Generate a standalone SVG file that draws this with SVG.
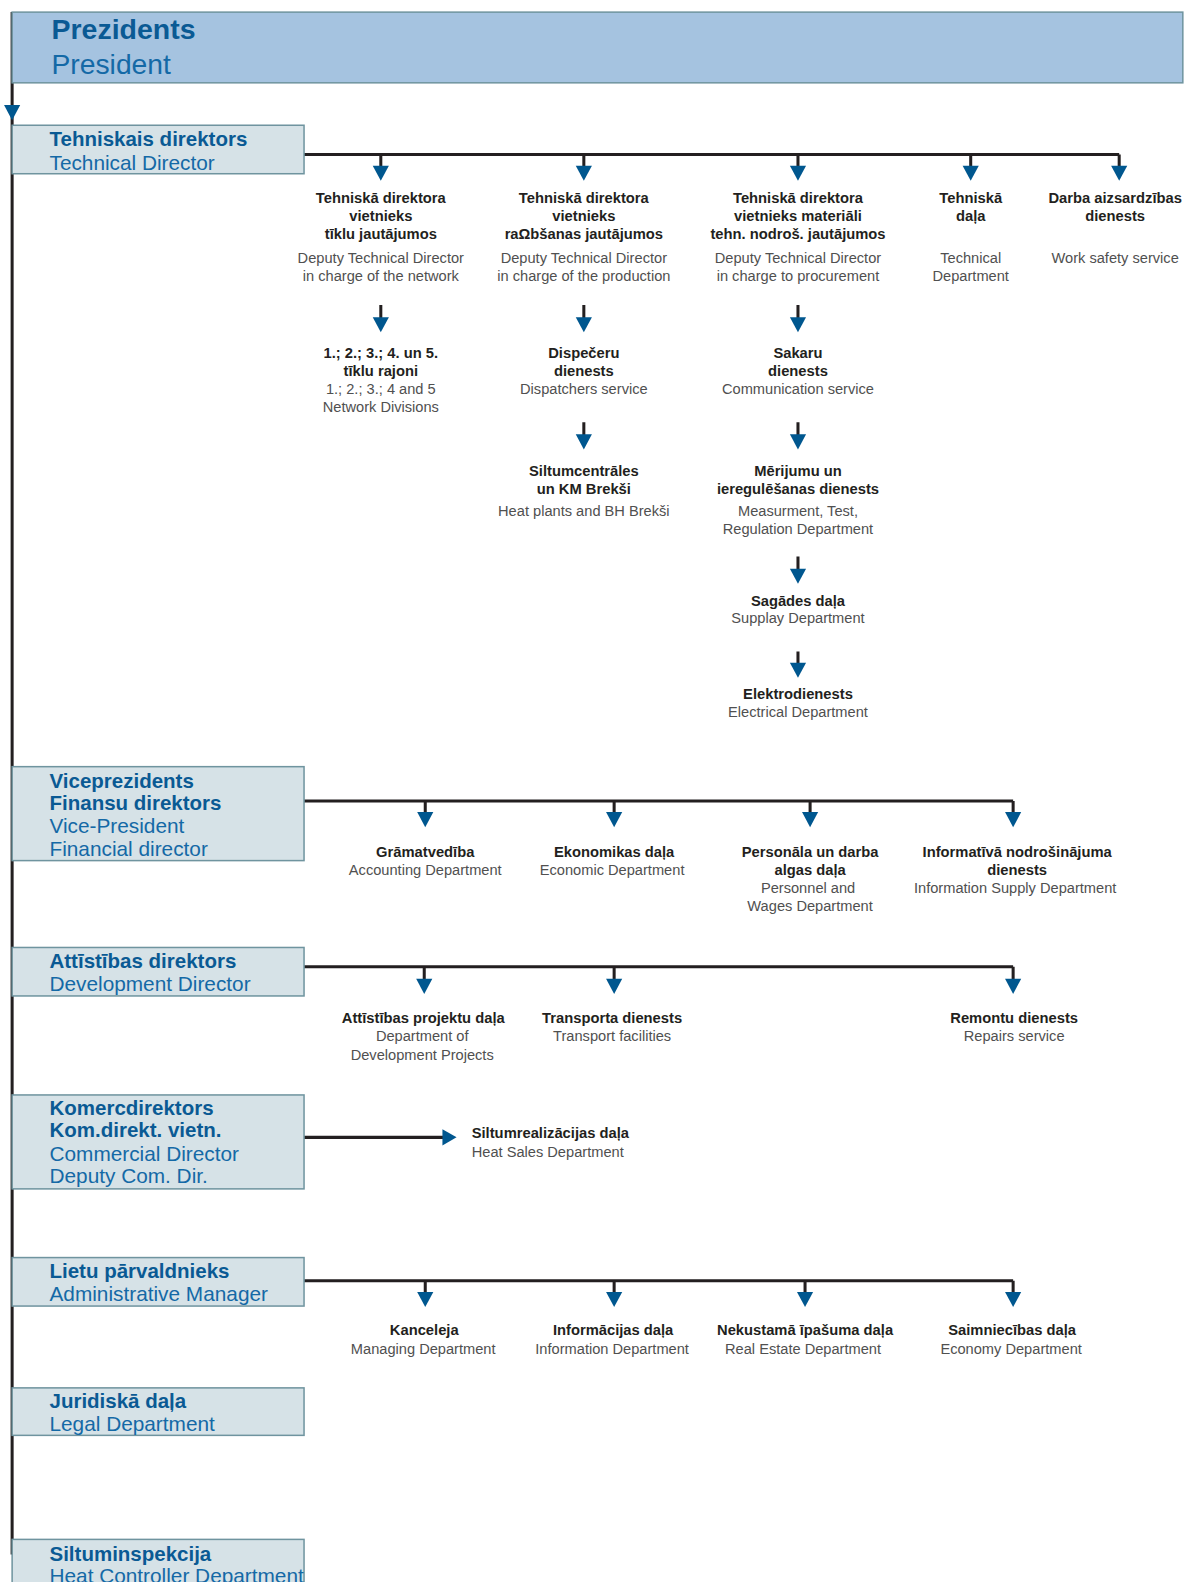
<svg xmlns="http://www.w3.org/2000/svg" width="1184" height="1582" viewBox="0 0 1184 1582">
<style>
.ln{stroke:#231f20;stroke-width:3;fill:none}
.ar{fill:#00578f}
.box{fill:#d6e2e7;stroke:#6f949f;stroke-width:1.5}
.pbox{fill:#a5c3e0;stroke:#6f949f;stroke-width:1.5}
.tb{font-family:"Liberation Sans",Arial,sans-serif;font-size:20.3px;font-weight:bold;fill:#0a5a94}
.tr{font-family:"Liberation Sans",Arial,sans-serif;font-size:20.6px;fill:#1469a6}
.nb{font-family:"Liberation Sans",Arial,sans-serif;font-size:14.6px;font-weight:bold;fill:#231f20;text-anchor:middle}
.nr{font-family:"Liberation Sans",Arial,sans-serif;font-size:14.5px;fill:#505050;text-anchor:middle}
.l{text-anchor:start}
</style>
<defs>
<path id="ad" class="ar" d="M-8,-15 L8,-15 L0,0 Z"/>
<path id="arr" class="ar" d="M-14,-8 L-14,8 L0,0 Z"/>
</defs>
<g transform="scale(1.0101)">
<g id="connectors">
<line class="ln" x1="12" y1="12" x2="12" y2="1539"/>
<use href="#ad" x="12" y="119"/>
<line class="ln" x1="12" y1="154" x2="28" y2="154"/><use href="#arr" x="40" y="154"/>
<line class="ln" x1="12" y1="801" x2="28" y2="801"/><use href="#arr" x="40" y="801"/>
<line class="ln" x1="12" y1="956" x2="28" y2="956"/><use href="#arr" x="40" y="956"/>
<line class="ln" x1="12" y1="1126" x2="28" y2="1126"/><use href="#arr" x="40" y="1126"/>
<line class="ln" x1="12" y1="1267" x2="28" y2="1267"/><use href="#arr" x="40" y="1267"/>
<line class="ln" x1="12" y1="1396" x2="28" y2="1396"/><use href="#arr" x="40" y="1396"/>
<line class="ln" x1="12" y1="1538" x2="28" y2="1538"/><use href="#arr" x="40" y="1538"/>

<path class="ln" d="M301,153 H1108 M377,153 V166 M578,153 V166 M790,153 V166 M961,153 V166 M1108,153 V166"/>
<use href="#ad" x="377" y="179"/><use href="#ad" x="578" y="179"/><use href="#ad" x="790" y="179"/><use href="#ad" x="961" y="179"/><use href="#ad" x="1108" y="179"/>
<path class="ln" d="M377,302 V316 M578,302 V316 M790,302 V316 M578,418 V432 M790,418 V432 M790,551 V565 M790,645 V658"/>
<use href="#ad" x="377" y="329"/><use href="#ad" x="578" y="329"/><use href="#ad" x="790" y="329"/>
<use href="#ad" x="578" y="445"/><use href="#ad" x="790" y="445"/>
<use href="#ad" x="790" y="578"/><use href="#ad" x="790" y="671"/>

<path class="ln" d="M301,793 H1003 M421,793 V806 M608,793 V806 M802,793 V806 M1003,793 V806"/>
<use href="#ad" x="421" y="819"/><use href="#ad" x="608" y="819"/><use href="#ad" x="802" y="819"/><use href="#ad" x="1003" y="819"/>

<path class="ln" d="M301,957 H1003 M420,957 V971 M608,957 V971 M1003,957 V971"/>
<use href="#ad" x="420" y="984"/><use href="#ad" x="608" y="984"/><use href="#ad" x="1003" y="984"/>

<line class="ln" x1="301" y1="1126" x2="440" y2="1126"/><use href="#arr" x="452" y="1126"/>

<path class="ln" d="M301,1268 H1003 M421,1268 V1281 M608,1268 V1281 M797,1268 V1281 M1003,1268 V1281"/>
<use href="#ad" x="421" y="1294"/><use href="#ad" x="608" y="1294"/><use href="#ad" x="797" y="1294"/><use href="#ad" x="1003" y="1294"/>
</g>

<g id="president">
<rect class="pbox" x="12" y="12" width="1159" height="70"/>
<text class="tb" x="51" y="39" style="font-size:28.2px">Prezidents</text>
<text class="tr" x="51" y="73" style="font-size:28px">President</text>
</g>

<g id="technical-director">
<rect class="box" x="12" y="124" width="289" height="48"/>
<text class="tb" x="49" y="145">Tehniskais direktors</text>
<text class="tr" x="49" y="168">Technical Director</text>
</g>

<g id="deputy-network">
<text class="nb" x="377" y="201">Tehniskā direktora</text>
<text class="nb" x="377" y="219">vietnieks</text>
<text class="nb" x="377" y="237">tīklu jautājumos</text>
<text class="nr" x="377" y="260">Deputy Technical Director</text>
<text class="nr" x="377" y="278">in charge of the network</text>
</g>
<g id="deputy-production">
<text class="nb" x="578" y="201">Tehniskā direktora</text>
<text class="nb" x="578" y="219">vietnieks</text>
<text class="nb" x="578" y="237">raΩbšanas jautājumos</text>
<text class="nr" x="578" y="260">Deputy Technical Director</text>
<text class="nr" x="578" y="278">in charge of the production</text>
</g>
<g id="deputy-procurement">
<text class="nb" x="790" y="201">Tehniskā direktora</text>
<text class="nb" x="790" y="219">vietnieks materiāli</text>
<text class="nb" x="790" y="237">tehn. nodroš. jautājumos</text>
<text class="nr" x="790" y="260">Deputy Technical Director</text>
<text class="nr" x="790" y="278">in charge to procurement</text>
</g>
<g id="technical-department">
<text class="nb" x="961" y="201">Tehniskā</text>
<text class="nb" x="961" y="219">daļa</text>
<text class="nr" x="961" y="260">Technical</text>
<text class="nr" x="961" y="278">Department</text>
</g>
<g id="work-safety">
<text class="nb" x="1104" y="201">Darba aizsardzības</text>
<text class="nb" x="1104" y="219">dienests</text>
<text class="nr" x="1104" y="260">Work safety service</text>
</g>

<g id="network-divisions">
<text class="nb" x="377" y="354">1.; 2.; 3.; 4. un 5.</text>
<text class="nb" x="377" y="372">tīklu rajoni</text>
<text class="nr" x="377" y="390">1.; 2.; 3.; 4 and 5</text>
<text class="nr" x="377" y="408">Network Divisions</text>
</g>
<g id="dispatchers">
<text class="nb" x="578" y="354">Dispečeru</text>
<text class="nb" x="578" y="372">dienests</text>
<text class="nr" x="578" y="390">Dispatchers service</text>
</g>
<g id="communication">
<text class="nb" x="790" y="354">Sakaru</text>
<text class="nb" x="790" y="372">dienests</text>
<text class="nr" x="790" y="390">Communication service</text>
</g>
<g id="heat-plants">
<text class="nb" x="578" y="471">Siltumcentrāles</text>
<text class="nb" x="578" y="489">un KM Brekši</text>
<text class="nr" x="578" y="511">Heat plants and BH Brekši</text>
</g>
<g id="measurement">
<text class="nb" x="790" y="471">Mērijumu un</text>
<text class="nb" x="790" y="489">ieregulēšanas dienests</text>
<text class="nr" x="790" y="511">Measurment, Test,</text>
<text class="nr" x="790" y="529">Regulation Department</text>
</g>
<g id="supply">
<text class="nb" x="790" y="600">Sagādes daļa</text>
<text class="nr" x="790" y="617">Supplay Department</text>
</g>
<g id="electrical">
<text class="nb" x="790" y="692">Elektrodienests</text>
<text class="nr" x="790" y="710">Electrical Department</text>
</g>

<g id="vice-president">
<rect class="box" x="12" y="759" width="289" height="93"/>
<text class="tb" x="49" y="780">Viceprezidents</text>
<text class="tb" x="49" y="802">Finansu direktors</text>
<text class="tr" x="49" y="825">Vice-President</text>
<text class="tr" x="49" y="847">Financial director</text>
</g>
<g id="accounting">
<text class="nb" x="421" y="848">Grāmatvedība</text>
<text class="nr" x="421" y="866">Accounting Department</text>
</g>
<g id="economic">
<text class="nb" x="608" y="848">Ekonomikas daļa</text>
<text class="nr" x="606" y="866">Economic Department</text>
</g>
<g id="personnel">
<text class="nb" x="802" y="848">Personāla un darba</text>
<text class="nb" x="802" y="866">algas daļa</text>
<text class="nr" x="800" y="884">Personnel and</text>
<text class="nr" x="802" y="902">Wages Department</text>
</g>
<g id="information-supply">
<text class="nb" x="1007" y="848">Informatīvā nodrošinājuma</text>
<text class="nb" x="1007" y="866">dienests</text>
<text class="nr" x="1005" y="884">Information Supply Department</text>
</g>

<g id="development-director">
<rect class="box" x="12" y="938" width="289" height="48"/>
<text class="tb" x="49" y="958">Attīstības direktors</text>
<text class="tr" x="49" y="981">Development Director</text>
</g>
<g id="development-projects">
<text class="nb" x="419" y="1013">Attīstības projektu daļa</text>
<text class="nr" x="418" y="1031">Department of</text>
<text class="nr" x="418" y="1049">Development Projects</text>
</g>
<g id="transport">
<text class="nb" x="606" y="1013">Transporta dienests</text>
<text class="nr" x="606" y="1031">Transport facilities</text>
</g>
<g id="repairs">
<text class="nb" x="1004" y="1013">Remontu dienests</text>
<text class="nr" x="1004" y="1031">Repairs service</text>
</g>

<g id="commercial-director">
<rect class="box" x="12" y="1084" width="289" height="93"/>
<text class="tb" x="49" y="1104">Komercdirektors</text>
<text class="tb" x="49" y="1126">Kom.direkt. vietn.</text>
<text class="tr" x="49" y="1149">Commercial Director</text>
<text class="tr" x="49" y="1171">Deputy Com. Dir.</text>
</g>
<g id="heat-sales">
<text class="nb l" x="467" y="1127">Siltumrealizācijas daļa</text>
<text class="nr l" x="467" y="1145">Heat Sales Department</text>
</g>

<g id="administrative-manager">
<rect class="box" x="12" y="1245" width="289" height="48"/>
<text class="tb" x="49" y="1265">Lietu pārvaldnieks</text>
<text class="tr" x="49" y="1288">Administrative Manager</text>
</g>
<g id="managing">
<text class="nb" x="420" y="1322">Kanceleja</text>
<text class="nr" x="419" y="1340">Managing Department</text>
</g>
<g id="information">
<text class="nb" x="607" y="1322">Informācijas daļa</text>
<text class="nr" x="606" y="1340">Information Department</text>
</g>
<g id="real-estate">
<text class="nb" x="797" y="1322">Nekustamā īpašuma daļa</text>
<text class="nr" x="795" y="1340">Real Estate Department</text>
</g>
<g id="economy">
<text class="nb" x="1002" y="1322">Saimniecības daļa</text>
<text class="nr" x="1001" y="1340">Economy Department</text>
</g>

<g id="legal">
<rect class="box" x="12" y="1374" width="289" height="47"/>
<text class="tb" x="49" y="1394">Juridiskā daļa</text>
<text class="tr" x="49" y="1417">Legal Department</text>
</g>

<g id="heat-controller">
<rect class="box" x="12" y="1524" width="289" height="70"/>
<text class="tb" x="49" y="1545">Siltuminspekcija</text>
<text class="tr" x="49" y="1567">Heat Controller Department</text>
</g>
</g>
</svg>
